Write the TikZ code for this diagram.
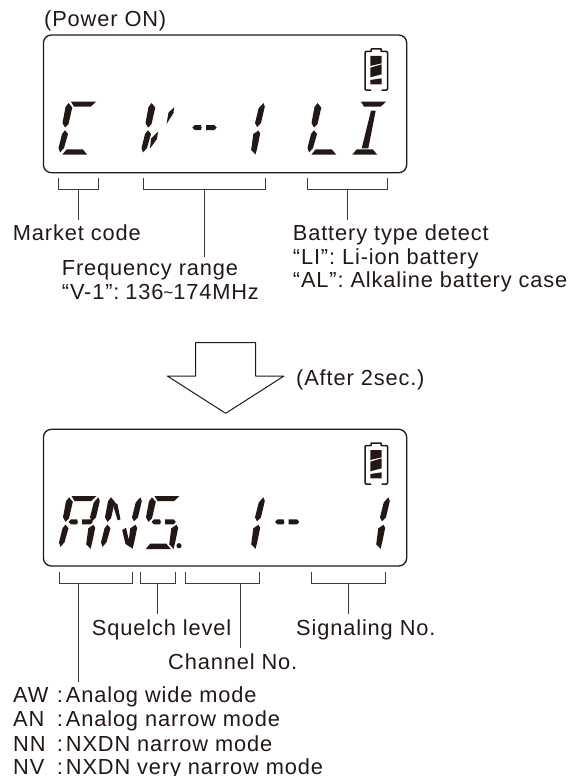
\documentclass[tikz,border=0pt]{standalone}
\usepackage{fontspec}
\usepackage{xcolor}
\setmainfont{Liberation Sans}[LetterSpace=4]
\definecolor{lcdink}{HTML}{231815}
\definecolor{tickink}{HTML}{3E3A39}
% segments of one display digit, measured from its lower left corner
\newcommand{\segtop}{(11.5,-52.3) -- (36.5,-52.3) -- (31.2,-47.3) -- (14.5,-47.3) -- cycle}
\newcommand{\segul}{(9,-51) -- (12.8,-46.5) -- (9,-30) -- (5.5,-26.5) -- (3,-31) -- (6,-47) -- cycle}
\newcommand{\segll}{(5.5,-23.8) -- (8.5,-20) -- (4.5,-6) -- (0.5,-1.5) -- (-1,-6) -- (2.5,-20) -- cycle}
\newcommand{\segbot}{(7.2,-4.7) -- (23.2,-4.7) -- (27.8,0.7) -- (2.8,0.7) -- cycle}
\newcommand{\segur}{(38.5,-51) -- (39.8,-47.3) -- (36,-31) -- (32,-27) -- (30,-31) -- (33.8,-46) -- cycle}
\newcommand{\seglr}{(33.5,-23.5) -- (35.2,-20.5) -- (32,-5) -- (30.5,0.5) -- (26.2,-4) -- (28.3,-20) -- cycle}
\newcommand{\segmid}{(8.5,-26.3) -- (11,-29) -- (17,-29) -- (17.9,-26.3) -- (17,-24) -- (11,-24) -- cycle
  (22.2,-29) -- (30.5,-29) -- (32.9,-26.3) -- (30.5,-24) -- (22.2,-24) -- cycle}
\newcommand{\segdiagu}{(12.7,-46) -- (15.5,-44) -- (18.5,-29) -- (15.7,-28) -- (12,-40) -- cycle}
\newcommand{\segdiagl}{(20.2,-18.3) -- (24,-20.5) -- (28.5,-1) -- (23.5,-4.3) -- cycle}
\newcommand{\segvu}{(31.5,-46.5) -- (31,-41) -- (24,-30) -- (26,-41.5) -- cycle}
\newcommand{\segvl}{(15.5,-22.5) -- (14.5,-15) -- (7.5,-5.5) -- (8.5,-15.5) -- cycle}
\newcommand{\segstem}{(21.5,-43.3) -- (26.2,-43.3) -- (18.8,-5.7) -- (12.2,-5.7) -- cycle}
\newcommand{\batshell}{(7,42) -- (2,42) -- (1,41) -- (1,4.5) -- (2,3.5) -- (7,3.5) -- (7,1) -- (17,1) -- (17,3.5) -- (22.5,3.5) -- (23.5,4.5) -- (23.5,41) -- (22.5,42) -- (17.5,42)}
\newcommand{\batbars}{(6.3,8) -- (17.7,8) -- (17.7,15.3) -- (6.3,18) -- cycle
  (6.3,19.7) -- (17.7,16.3) -- (17.7,26.3) -- (6.3,29.3) -- cycle
  (6.3,32) -- (17.7,30.3) -- (17.7,36.3) -- (6.3,36.3) -- cycle}
\newcommand{\modeline}[2]{\makebox[52.7pt][l]{\makebox[43.7pt][l]{#1}:}#2}
\tikzset{
  lcdbox/.style={draw=lcdink,line width=1.3pt,rounded corners=8pt},
  lcdseg/.style={fill=lcdink},
  lcdbatt/.style={draw=lcdink,line width=1.5pt,line join=round},
  tick/.style={draw=tickink,line width=1pt},
  lbl/.style={anchor=base west,inner sep=0pt,text=lcdink,font=\fontsize{21.8}{24}\selectfont},
}

\begin{document}
\begin{tikzpicture}[x=1pt,y=-1pt]
\useasboundingbox (0,0) rectangle (578,776);
% upper display
\node[lbl] (poweron) at (44,26.7) {(Power ON)};
\draw[lcdbox] (43.4,35) rectangle (406.7,172.7);
\draw[lcdbatt,shift={(364,48)}] \batshell;
\fill[lcdseg,shift={(364,48)}] \batbars;
\fill[lcdseg,shift={(59.5,154)}] \segtop \segul \segll \segbot;
\fill[lcdseg,shift={(142.5,154)}] \segul \segll \segvu \segvl;
\fill[lcdseg,shift={(183.8,154)}] \segmid;
\fill[lcdseg,shift={(225,154)}] \segur \seglr;
\fill[lcdseg,shift={(308.5,154)}] \segul \segll \segbot;
\fill[lcdseg,shift={(349.5,154)}] \segtop \segbot \segstem;
% upper labels
\draw[tick] (58.7,178.3) |- (98.3,189.3) -- (98.3,178.3);
\coordinate (marketup) at (78.7,189.3);
\coordinate (marketdown) at (78.7,220);
\draw[tick] (marketup) -- (marketdown);
\draw[tick] (143,178.3) |- (265,189.3) -- (265,178.3);
\coordinate (frequp) at (204.3,189.3);
\coordinate (freqdown) at (204.3,256.7);
\draw[tick] (frequp) -- (freqdown);
\draw[tick] (307.3,178.3) |- (387.3,189.3) -- (387.3,178.3);
\coordinate (battup) at (347.7,189.3);
\coordinate (battdown) at (347.7,220);
\draw[tick] (battup) -- (battdown);
\node[lbl] (market) at (12.7,240) {Market code};
\node[lbl] (freq) at (61.7,275) {Frequency range};
\node[lbl] (freqval) at (61.7,299.3) {“V-1”:\hspace{-3.5pt} 136{\fontsize{17}{17}\selectfont\raisebox{1pt}{\textasciitilde}}174MHz};
\node[lbl] (batt) at (292.7,240) {Battery type detect};
\node[lbl] (battli) at (292.7,264) {“LI”: Li-ion battery};
\node[lbl] (battal) at (292.7,287.3) {“AL”: Alkaline battery case};
% big arrow
\draw[draw=lcdink,line width=1pt,line join=round] (195.7,342.7) -- (255.7,342.7) -- (255.7,376) -- (284,376)
  -- (225.7,413.3) -- (167.3,376) -- (195.7,376) -- cycle;
\node[lbl] (after) at (296,385) {(After 2sec.)};
% lower display
\draw[lcdbox] (43.4,429.3) rectangle (406.7,566);
\draw[lcdbatt,shift={(364,442)}] \batshell;
\fill[lcdseg,shift={(364,442)}] \batbars;
\fill[lcdseg,shift={(60,548.3)}] \segtop \segul \segll \segur \seglr \segmid;
\fill[lcdseg,shift={(102,548.3)}] \segul \segll \segur \seglr \segdiagu \segdiagl;
\fill[lcdseg,shift={(143,548.3)}] \segtop \segul \segmid \seglr \segbot;
\fill[lcdseg] (179,545.7) circle (2.6);
\fill[lcdseg,shift={(225,548.3)}] \segur \seglr;
\fill[lcdseg,shift={(266.5,548.3)}] \segmid;
\fill[lcdseg,shift={(350,548.3)}] \segur \seglr;
% lower labels
\draw[tick] (59,572.3) |- (132.7,583.3) -- (132.7,572.3);
\coordinate (modeup) at (78.3,583.3);
\coordinate (modedown) at (78.3,681.7);
\draw[tick] (modeup) -- (modedown);
\draw[tick] (140,572.3) |- (175,583.3) -- (175,572.3);
\coordinate (squelchup) at (157.7,583.3);
\coordinate (squelchdown) at (157.7,614.3);
\draw[tick] (squelchup) -- (squelchdown);
\draw[tick] (185,572.3) |- (259,583.3) -- (259,572.3);
\coordinate (chanup) at (240.7,583.3);
\coordinate (chandown) at (240.7,647.7);
\draw[tick] (chanup) -- (chandown);
\draw[tick] (311,572.3) |- (385,583.3) -- (385,572.3);
\coordinate (signalup) at (348,583.3);
\coordinate (signaldown) at (348,614.3);
\draw[tick] (signalup) -- (signaldown);
\node[lbl] (squelch) at (91.7,635) {Squelch level};
\node[lbl] (chan) at (168,669) {Channel No.};
\node[lbl] (signal) at (296,635) {Signaling No.};
\node[lbl] (modeaw) at (13,702.7) {\modeline{AW}{Analog wide mode}};
\node[lbl] (modean) at (13,726.7) {\modeline{AN}{Analog narrow mode}};
\node[lbl] (modenn) at (13,751) {\modeline{NN}{NXDN narrow mode}};
\node[lbl] (modenv) at (13,774.3) {\modeline{NV}{NXDN very narrow mode}};
\end{tikzpicture}
\end{document}
